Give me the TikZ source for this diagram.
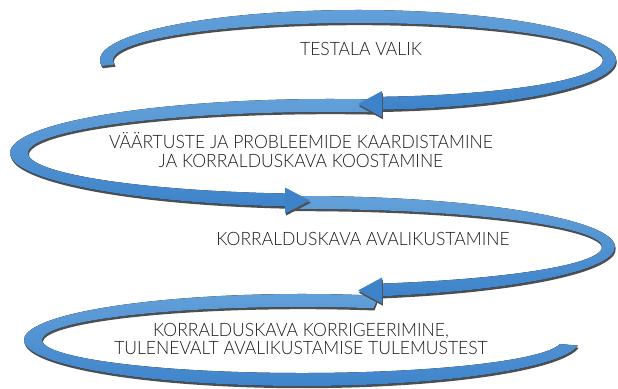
\documentclass[tikz,border=0pt]{standalone}
\usepackage{fontspec}
\setmainfont{Lato}[UprightFont=* Light, FakeStretch=0.95]
\definecolor{ribbonlight}{HTML}{64A1DA}
\definecolor{ribbondark}{HTML}{3E83CA}
\definecolor{ribbonshadow}{HTML}{4F4F4F}
\definecolor{stagetext}{HTML}{1C1C1C}
\tikzset{
  ribbonfill/.style={top color=ribbonlight, bottom color=ribbondark, draw=none},
  ribbonshade/.style={fill=ribbonshadow, draw=none},
  headfill/.style={fill=ribbondark, draw=none},
  stagelabel/.style={font=\fontsize{18.5}{18.5}\selectfont, text=stagetext, align=center, inner sep=0pt}
}
% outline of one loop: outer arc, then inner arc back
\newcommand{\ribbonpath}[6]{(#5:#1 and #2) arc[start angle=#5, end angle=#6, x radius=#1, y radius=#2] -- (#6:#3 and #4) arc[start angle=#6, end angle=#5, x radius=#3, y radius=#4] -- cycle}
% loop with its shadow: cx, cy, rx, ry, inner rx, inner ry, start, end
\newcommand{\ribbon}[8]{%
  \fill[ribbonshade, shift={(#1+0.8,#2-2.2)}] \ribbonpath{#3}{#4}{#5}{#6}{#7}{#8};
  \fill[ribbonfill, shift={(#1,#2)}] \ribbonpath{#3}{#4}{#5}{#6}{#7}{#8};}
% arrow head: base x, middle y, tip x
\newcommand{\ribbonhead}[3]{%
  \fill[ribbonshade, shift={(0.8,-2.2)}] (#1,#2+13) -- (#3,#2) -- (#1,#2-13) -- cycle;
  \fill[headfill] (#1,#2+13) -- (#3,#2) -- (#1,#2-13) -- cycle;}
\begin{document}
\begin{tikzpicture}[x=1bp, y=1bp]
\useasboundingbox (0,0) rectangle (618,388);

% Drawing loop 4, open end at the right
\ribbon{302}{48}{278}{46}{260}{33}{74}{353}

% Drawing loop 3
\ribbon{300}{141}{315}{51}{302}{38}{91.5}{-75}
\ribbonhead{382}{97.5}{358}

% Drawing loop 2
\ribbon{330}{235}{320}{54}{302}{41}{81}{262}
\ribbonhead{285}{187.5}{310}

% Drawing loop 1, cut end at the left
\ribbon{358}{328}{258}{50}{245}{37}{187}{-85}
\ribbonhead{382}{284}{358}

% Marking the stages
\node[stagelabel] (test) at (361,339) {TESTALA VALIK};
\node[stagelabel] (map) at (301,238) {VÄÄRTUSTE JA PROBLEEMIDE KAARDISTAMINE\\JA KORRALDUSKAVA KOOSTAMINE};
\node[stagelabel] (pub) at (363,149) {KORRALDUSKAVA AVALIKUSTAMINE};
\node[stagelabel] (fix) at (301,49) {KORRALDUSKAVA KORRIGEERIMINE,\\TULENEVALT AVALIKUSTAMISE TULEMUSTEST};
\end{tikzpicture}
\end{document}
